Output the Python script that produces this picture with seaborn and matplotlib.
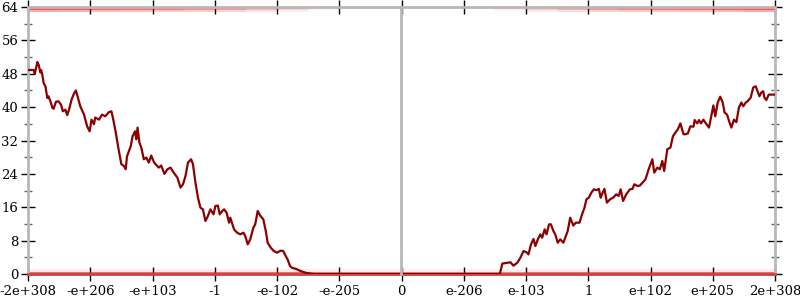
import numpy as np
import pandas as pd
import matplotlib
matplotlib.use("Agg")
import matplotlib.pyplot as plt
import seaborn as sns

# ---- data (x in tick-index units: -6 .. 6) ----
tick_labels = ["-2e+308", "-e+206", "-e+103", "-1", "-e-102", "-e-205", "0",
               "e-206", "e-103", "1", "e+102", "e+205", "2e+308"]
tick_pos = [-6, -5, -4, -3, -2, -1, 0, 1, 2, 3, 4, 5, 6]
y_ticks = [0, 8, 16, 24, 32, 40, 48, 56, 64]

left_x = [-6.0, -5.91, -5.89, -5.85, -5.83, -5.80, -5.79, -5.77, -5.75, -5.72, -5.69,
          -5.67, -5.64, -5.61, -5.59, -5.55, -5.51, -5.47, -5.44, -5.40, -5.37, -5.34,
          -5.30, -5.26, -5.23, -5.19, -5.16, -5.10, -5.05, -5.01, -4.98, -4.94, -4.92,
          -4.86, -4.81, -4.76, -4.70, -4.66, -4.63, -4.59, -4.55, -4.50, -4.46, -4.43,
          -4.41, -4.35, -4.32, -4.28, -4.26, -4.24, -4.21, -4.18, -4.14, -4.10, -4.06,
          -4.02, -3.98, -3.95, -3.90, -3.86, -3.81, -3.76, -3.71, -3.66, -3.60, -3.55,
          -3.51, -3.47, -3.43, -3.38, -3.35, -3.31, -3.27, -3.23, -3.19, -3.15, -3.11,
          -3.07, -3.02, -2.99, -2.95, -2.92, -2.88, -2.85, -2.81, -2.77, -2.75, -2.69,
          -2.64, -2.59, -2.54, -2.51, -2.47, -2.43, -2.38, -2.35, -2.31, -2.27, -2.22,
          -2.18, -2.15, -2.10, -2.05, -2.00, -1.94, -1.90, -1.86, -1.83, -1.79, -1.76,
          -1.69, -1.62, -1.54, -1.46, -1.40]
left_y = [48.9, 48.9, 48.0, 50.8, 50.2, 48.3, 48.9, 47.8, 45.8, 45.0, 42.2,
          42.6, 41.4, 39.9, 39.6, 41.3, 41.4, 40.6, 39.0, 39.4, 38.1, 39.4,
          41.8, 43.3, 44.0, 41.8, 40.2, 38.2, 35.4, 34.2, 37.0, 35.9, 37.5,
          37.0, 38.2, 37.8, 38.8, 39.0, 37.0, 33.9, 30.3, 26.3, 25.9, 25.1,
          28.2, 30.6, 33.0, 34.2, 32.3, 35.1, 31.5, 30.3, 27.5, 27.9, 26.7,
          28.4, 26.9, 26.3, 25.5, 26.0, 24.0, 25.1, 25.5, 24.3, 23.1, 20.7,
          21.5, 23.5, 26.7, 27.5, 26.3, 21.9, 18.3, 15.9, 15.5, 12.7, 13.9,
          15.5, 14.3, 16.3, 16.4, 14.3, 15.1, 15.5, 14.7, 12.3, 13.5, 10.7,
          9.9, 9.5, 9.9, 9.1, 7.1, 8.3, 11.1, 11.9, 15.1, 14.0, 13.1,
          10.3, 7.5, 6.3, 5.5, 5.1, 5.6, 5.5, 4.3, 3.5, 1.9, 1.5,
          1.2, 0.7, 0.3, 0.1, 0.0]

right_x = [1.58, 1.62, 1.70, 1.75, 1.80, 1.86, 1.91, 1.96, 2.01, 2.04, 2.08, 2.12,
           2.15, 2.19, 2.23, 2.26, 2.30, 2.33, 2.37, 2.40, 2.44, 2.47, 2.51, 2.55,
           2.60, 2.63, 2.67, 2.71, 2.76, 2.80, 2.86, 2.90, 2.94, 2.97, 3.01, 3.05,
           3.09, 3.13, 3.17, 3.20, 3.22, 3.26, 3.30, 3.35, 3.40, 3.45, 3.49, 3.52,
           3.56, 3.61, 3.67, 3.71, 3.74, 3.79, 3.83, 3.92, 3.97, 4.03, 4.06, 4.11,
           4.15, 4.19, 4.22, 4.27, 4.32, 4.36, 4.40, 4.44, 4.48, 4.53, 4.56, 4.60,
           4.64, 4.69, 4.71, 4.75, 4.78, 4.81, 4.85, 4.88, 4.94, 4.98, 5.01, 5.04,
           5.08, 5.12, 5.16, 5.19, 5.23, 5.27, 5.30, 5.34, 5.38, 5.42, 5.46, 5.49,
           5.53, 5.56, 5.61, 5.65, 5.69, 5.71, 5.75, 5.78, 5.81, 5.83, 5.86, 5.90,
           5.98, 6.0]
right_y = [0.0, 2.5, 2.7, 2.8, 2.0, 2.7, 3.9, 5.5, 5.2, 4.7, 7.1, 8.4,
           6.7, 8.3, 9.5, 8.7, 10.7, 9.5, 11.9, 11.9, 10.3, 9.5, 7.5, 8.3,
           7.5, 8.7, 10.3, 13.5, 11.6, 12.3, 12.3, 14.3, 15.9, 17.9, 18.3, 19.5,
           20.3, 20.1, 20.4, 18.3, 19.1, 20.4, 17.1, 17.9, 18.3, 19.1, 18.7, 20.3,
           17.5, 19.1, 20.3, 20.4, 21.5, 21.1, 21.2, 22.7, 25.1, 27.5, 24.3, 25.5,
           25.1, 27.1, 24.7, 29.9, 30.3, 33.0, 33.9, 34.7, 36.1, 33.5, 33.5, 33.7,
           35.4, 35.3, 36.9, 36.1, 36.9, 36.1, 37.0, 36.3, 35.1, 38.2, 40.4, 37.8,
           41.1, 42.5, 41.1, 38.7, 38.2, 36.3, 35.1, 37.0, 36.4, 39.9, 41.1, 40.2,
           41.1, 41.4, 42.3, 44.7, 45.0, 44.2, 42.6, 43.5, 43.8, 42.3, 41.7, 43.0,
           43.0, 43.0]

# density of the faint sample bands (per half-unit bin from -6 to 6)
band_edges = [-6.0, -5.5, -5.0, -4.5, -4.0, -3.5, -3.0, -2.5, -2.0, -1.5, -1.0, -0.5, 0.0,
              0.5, 1.0, 1.5, 2.0, 2.5, 3.0, 3.5, 4.0, 4.5, 5.0, 5.5, 6.0]
top_density = [1.0, 0.95, 0.85, 0.8, 0.7, 0.6, 0.5, 0.35, 0.2, 0.05, 0.0, 0.0,
               0.0, 0.0, 0.0, 0.1, 0.25, 0.4, 0.55, 0.65, 0.75, 0.8, 0.9, 1.0]
bottom_density = [0.6, 0.6, 0.6, 0.6, 0.6, 0.6, 0.6, 0.6, 0.6, 0.5, 0.5, 0.5,
                  0.5, 0.5, 0.5, 0.5, 0.6, 0.6, 0.6, 0.6, 0.6, 0.6, 0.6, 0.6]

line_df = pd.DataFrame({
    "x": left_x + [0.0] + right_x,
    "y": left_y + [0.0] + right_y,
})

# ---- style ----
sns.set_theme(style="white")
plt.rcParams["font.family"] = ["DejaVu Serif"]

fig = plt.figure(figsize=(8, 3), dpi=100)
ax = fig.add_axes([28 / 800, 1 - 274 / 300, 747 / 800, 267 / 300])

spine_col = "#b8b8b8"
band_col = "#ff1010"

# sample bands
for i in range(len(band_edges) - 1):
    x0, x1 = band_edges[i], band_edges[i + 1]
    a = top_density[i]
    if a > 0:
        ax.fill_between([x0, x1], 62.8, 64.0, color=band_col, alpha=0.35 * a, lw=0)
        ax.fill_between([x0, x1], 63.2, 63.9, color=band_col, alpha=0.6 * a, lw=0)
    b = bottom_density[i]
    ax.fill_between([x0, x1], 0.0, 1.3, color=band_col, alpha=0.14 * b, lw=0)
    ax.fill_between([x0, x1], 0.0, 0.45, color="#d81e1e", alpha=1.0 * b, lw=0)

sns.lineplot(data=line_df, x="x", y="y", ax=ax, color="#8b0000", lw=1.6,
             estimator=None, sort=False, zorder=5)

ax.set_xlim(-6, 6)
ax.set_ylim(0, 64)
ax.set_xlabel("")
ax.set_ylabel("")
ax.set_xticks(tick_pos)
ax.set_xticklabels(tick_labels)
ax.set_yticks(y_ticks)
ax.set_yticks([v + 4 for v in y_ticks[:-1]], minor=True)

for s in ax.spines.values():
    s.set_visible(True)
    s.set_color(spine_col)
    s.set_linewidth(2)
ax.spines["bottom"].set_color("#d04040")

ax.tick_params(axis="both", which="major", direction="inout", length=10, width=1,
               color="black", labelsize=9.5, pad=2, top=True, right=True,
               bottom=True, left=True, labelcolor="black")
ax.tick_params(axis="y", which="minor", direction="inout", length=6, width=1,
               color="#666666", left=True, right=True)
ax.tick_params(axis="x", which="major", pad=3)

# central y-axis at x = 0
cax = ax.inset_axes([0.5, 0, 0.0, 1])
cax.set_ylim(0, 64)
cax.patch.set_alpha(0)
for k in ["top", "bottom", "right"]:
    cax.spines[k].set_visible(False)
cax.spines["left"].set_color(spine_col)
cax.spines["left"].set_linewidth(2)
cax.set_xticks([])
cax.set_yticks(y_ticks)
cax.set_yticks([v + 4 for v in y_ticks[:-1]], minor=True)
cax.tick_params(axis="y", which="major", direction="inout", length=10, width=1,
                color="black", labelleft=False)
cax.tick_params(axis="y", which="minor", direction="inout", length=6, width=1,
                color="#666666", labelleft=False)

fig.savefig("out.png", dpi=100)
